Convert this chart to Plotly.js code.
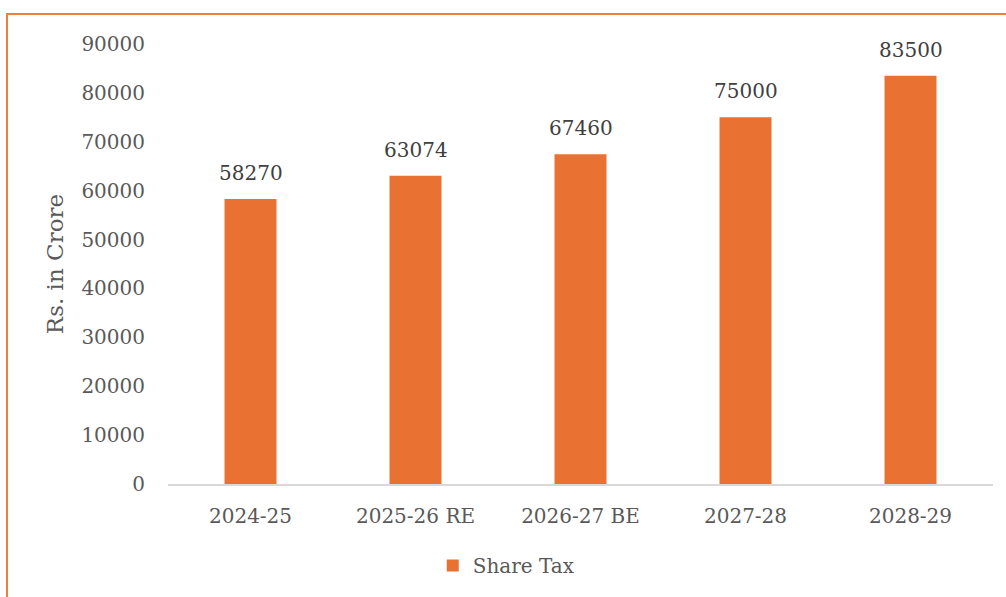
<!DOCTYPE html>
<html>
<head>
<meta charset="utf-8">
<script src="https://cdn.plot.ly/plotly-3.0.1.min.js"></script>
<style>
  html, body { margin: 0; padding: 0; background: #fff; }
  #wrap { position: relative; width: 1006px; height: 597px; overflow: hidden; }
  #chart { position: absolute; left: 0; top: 0; width: 1006px; height: 597px; }
  #frame { position: absolute; left: 6px; top: 13px; width: 1100px; height: 700px;
           border-left: 2px solid #EE7F3E; border-top: 2px solid #EE7F3E; pointer-events: none; }
</style>
</head>
<body>
<div id="wrap">
  <div id="chart"></div>
  <div id="frame"></div>
</div>
<script>
const categories = ["2024-25", "2025-26 RE", "2026-27 BE", "2027-28", "2028-29"];
const shareTax = [58270, 63074, 67460, 75000, 83500];
const seriesName = "Share Tax";
const yTicks = [0, 10000, 20000, 30000, 40000, 50000, 60000, 70000, 80000, 90000];

const FONT = "DejaVu Serif, Liberation Serif, serif";
const barColor = "#E97132";

const trace = {
  type: "bar",
  x: categories,
  y: shareTax,
  name: seriesName,
  marker: { color: barColor },
  width: 0.315,
  hoverinfo: "skip"
};

const annotations = categories.map((c, i) => ({
  x: c, y: shareTax[i], xref: "x", yref: "y",
  text: String(shareTax[i]), showarrow: false,
  yanchor: "bottom", yshift: 12,
  font: { family: FONT, size: 20, color: "#404040" }
}));

const layout = {
  width: 1006, height: 597,
  margin: { l: 168, r: 13, t: 44, b: 111 },
  paper_bgcolor: "#ffffff",
  plot_bgcolor: "#ffffff",
  showlegend: true,
  legend: {
    orientation: "h", x: 0.41, xanchor: "center", xref: "paper",
    y: -0.185, yanchor: "middle",
    font: { family: FONT, size: 20, color: "#595959" },
    itemwidth: 30
  },
  xaxis: {
    type: "category",
    showgrid: false,
    showline: true, linecolor: "#D9D9D9", linewidth: 2,
    ticks: "", ticklabelstandoff: 13,
    tickfont: { family: FONT, size: 20, color: "#595959" },
    zeroline: false, fixedrange: true
  },
  yaxis: {
    range: [0, 90000],
    tickvals: yTicks,
    ticktext: yTicks.map(String),
    showgrid: false, zeroline: false, showline: false,
    ticks: "", ticklabelstandoff: 22,
    tickfont: { family: FONT, size: 20, color: "#595959" },
    title: { text: "Rs. in Crore", font: { family: FONT, size: 23, color: "#595959" }, standoff: 11 },
    fixedrange: true
  },
  annotations: annotations
};

Plotly.newPlot("chart", [trace], layout, { displayModeBar: false, staticPlot: true });
</script>
</body>
</html>
